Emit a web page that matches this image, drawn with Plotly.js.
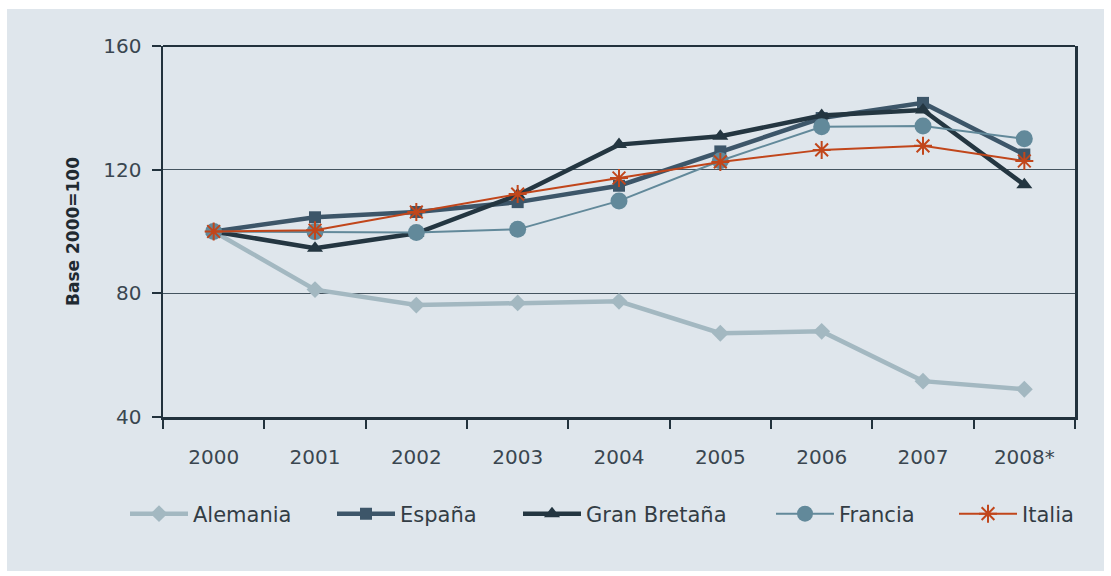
<!DOCTYPE html>
<html>
<head>
<meta charset="utf-8">
<script src="https://cdn.plot.ly/plotly-3.0.1.min.js"></script>
<style>
  html, body { margin: 0; padding: 0; background: #ffffff; width: 1111px; height: 576px; overflow: hidden; }
  #chart { position: absolute; left: 7px; top: 9px; width: 1097px; height: 562px; }
</style>
</head>
<body>
<div id="chart"></div>
<script>
const years = ['2000', '2001', '2002', '2003', '2004', '2005', '2006', '2007', '2008*'];
const alemania    = [100, 81.2, 76.2, 76.9, 77.4, 67.1, 67.7, 51.6, 49.0];
const espana      = [100, 104.6, 106.3, 109.5, 114.8, 125.9, 136.7, 141.6, 124.9];
const granBretana = [100, 94.6, 99.4, 111.8, 128.1, 130.8, 137.5, 139.3, 115.1];
const francia     = [100, 99.9, 99.7, 100.7, 109.9, 122.9, 133.9, 134.1, 130.0];
const italia      = [100, 100.4, 106.3, 112.1, 117.3, 122.5, 126.4, 127.7, 122.8];
const seriesNames = ['Alemania', 'España', 'Gran Bretaña', 'Francia', 'Italia'];
const yTicks = [40, 80, 120, 160];

const W = 1097, H = 562;
// legend entry left positions (px within the chart div)
const legendLeft = [118, 325, 511, 764, 947];
const legendY = 1 - 505 / H;

const traces = [
  { x: years, y: alemania, name: seriesNames[0], mode: 'lines+markers', legend: 'legend',
    line: { color: '#a3b8c1', width: 4.5 },
    marker: { symbol: 'diamond', size: 13, color: '#a3b8c1' } },
  { x: years, y: espana, name: seriesNames[1], mode: 'lines+markers', legend: 'legend2',
    line: { color: '#3d5669', width: 4.5 },
    marker: { symbol: 'square', size: 12, color: '#3d5669' } },
  { x: years, y: granBretana, name: seriesNames[2], mode: 'lines+markers', legend: 'legend3',
    line: { color: '#243641', width: 4.5 },
    marker: { symbol: 'triangle-up', size: 14, color: '#243641' } },
  { x: years, y: francia, name: seriesNames[3], mode: 'lines+markers', legend: 'legend4',
    line: { color: '#62899a', width: 2 },
    marker: { symbol: 'circle', size: 17, color: '#62899a' } },
  { x: years, y: italia, name: seriesNames[4], mode: 'lines+markers', legend: 'legend5',
    line: { color: '#c1461b', width: 2 },
    marker: { symbol: 'asterisk-open', size: 15, color: '#c1461b', line: { color: '#c1461b', width: 2 } } }
];

function makeLegend(i) {
  return {
    orientation: 'h', x: legendLeft[i] / W, xanchor: 'left', xref: 'container',
    y: legendY, yanchor: 'middle', yref: 'container',
    itemwidth: 58,
    font: { family: 'DejaVu Sans, sans-serif', size: 21, color: '#333d45' },
    bgcolor: 'rgba(0,0,0,0)'
  };
}

const layout = {
  width: W, height: H,
  paper_bgcolor: '#dfe6ec',
  plot_bgcolor: '#dfe6ec',
  margin: { l: 156, r: 29, t: 37, b: 154 },
  font: { family: 'DejaVu Sans, sans-serif', size: 20, color: '#3a4650' },
  showlegend: true,
  legend: makeLegend(0),
  legend2: makeLegend(1),
  legend3: makeLegend(2),
  legend4: makeLegend(3),
  legend5: makeLegend(4),
  xaxis: {
    type: 'category',
    range: [-0.5, 8.5],
    showline: true, linecolor: '#22323d', linewidth: 3,
    ticks: 'outside', tickson: 'boundaries', ticklen: 9, tickwidth: 2, tickcolor: '#22323d',
    ticklabelstandoff: 20,
    showgrid: false, zeroline: false,
    tickfont: { family: 'DejaVu Sans, sans-serif', size: 20, color: '#3a4650' }
  },
  yaxis: {
    range: [40, 160],
    tickvals: yTicks,
    showline: true, linecolor: '#22323d', linewidth: 2.5, mirror: true,
    ticks: 'outside', ticklen: 9, tickwidth: 2, tickcolor: '#22323d',
    ticklabelstandoff: 6,
    showgrid: true, gridcolor: '#44545f', gridwidth: 1.2,
    zeroline: false,
    tickfont: { family: 'DejaVu Sans, sans-serif', size: 20, color: '#3a4650' },
    title: { text: 'Base 2000=100', standoff: 20,
             font: { family: 'DejaVu Sans, sans-serif', size: 17, color: '#1f2a32', weight: 'bold' } }
  },
  shapes: [
    { type: 'line', xref: 'paper', yref: 'paper', x0: 0, x1: 1, y0: 1, y1: 1,
      line: { color: '#22323d', width: 2 } }
  ]
};

Plotly.newPlot('chart', traces, layout, { displayModeBar: false, staticPlot: true });
</script>
</body>
</html>
